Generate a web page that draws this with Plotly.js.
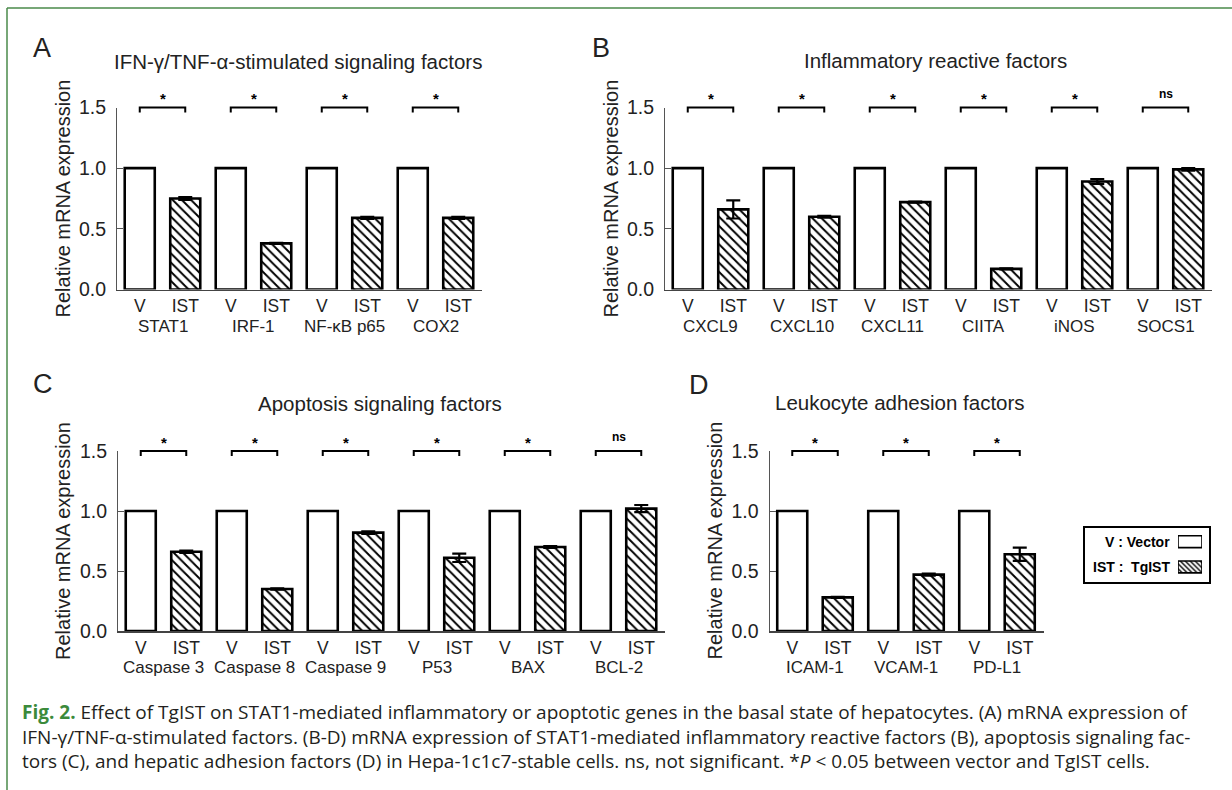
<!DOCTYPE html>
<html>
<head>
<meta charset="utf-8">
<script src="https://cdn.plot.ly/plotly-3.0.1.min.js"></script>
<style>html,body{margin:0;padding:0;background:#fff;}#chart{width:1232px;height:790px;}</style>
</head>
<body>
<div id="chart"></div>
<script>
// ---- data ----
const groupsA = ['STAT1', 'IRF-1', 'NF-κB p65', 'COX2'];
const vectorA = [1, 1, 1, 1];
const tgistA = [0.75, 0.38, 0.59, 0.59];
const errA = [0.012, 0.005, 0.008, 0.008];
const sigA = ['*', '*', '*', '*'];

const groupsB = ['CXCL9', 'CXCL10', 'CXCL11', 'CIITA', 'iNOS', 'SOCS1'];
const vectorB = [1, 1, 1, 1, 1, 1];
const tgistB = [0.66, 0.60, 0.72, 0.17, 0.89, 0.99];
const errB = [0.075, 0.008, 0.005, 0.005, 0.02, 0.01];
const sigB = ['*', '*', '*', '*', '*', 'ns'];

const groupsC = ['Caspase 3', 'Caspase 8', 'Caspase 9', 'P53', 'BAX', 'BCL-2'];
const vectorC = [1, 1, 1, 1, 1, 1];
const tgistC = [0.66, 0.35, 0.82, 0.61, 0.70, 1.02];
const errC = [0.01, 0.005, 0.01, 0.035, 0.008, 0.03];
const sigC = ['*', '*', '*', '*', '*', 'ns'];

const groupsD = ['ICAM-1', 'VCAM-1', 'PD-L1'];
const vectorD = [1, 1, 1];
const tgistD = [0.28, 0.47, 0.64];
const errD = [0.005, 0.008, 0.055];
const sigD = ['*', '*', '*'];

const barLabels = ['V', 'IST'];
const yTicks = [0, 0.5, 1.0, 1.5];
const yTitle = 'Relative mRNA expression';
const legendLabels = ['V : Vector', 'IST :  TgIST'];

const captionLines = [
  '<span style="color:#3b8a3b"><b>Fig. 2.</b></span> Effect of TgIST on STAT1-mediated inflammatory or apoptotic genes in the basal state of hepatocytes. (A) mRNA expression of',
  'IFN-γ/TNF-α-stimulated factors. (B-D) mRNA expression of STAT1-mediated inflammatory reactive factors (B), apoptosis signaling fac-',
  'tors (C), and hepatic adhesion factors (D) in Hepa-1c1c7-stable cells. ns, not significant. *<i>P</i> &lt; 0.05 between vector and TgIST cells.'
];

// ---- layout helpers ----
const W = 1232, H = 790;
const px = x => x / W;
const py = y => 1 - y / H;
const PITCH = 45.5; // px per bar slot
const FONT = 'Liberation Sans, Arial, sans-serif';

const panels = [
  {s: '', letter: 'A', title: 'IFN-γ/TNF-α-stimulated signaling factors', groups: groupsA, v: vectorA, ist: tgistA, err: errA, sig: sigA,
   x0: 117, y0: 289.5, y1: 107.5, letterXY: [42, 48], titleXY: [112, 62]},
  {s: '2', letter: 'B', title: 'Inflammatory reactive factors', groups: groupsB, v: vectorB, ist: tgistB, err: errB, sig: sigB,
   x0: 665, y0: 289.5, y1: 107.5, letterXY: [601, 48], titleXY: [802, 61]},
  {s: '3', letter: 'C', title: 'Apoptosis signaling factors', groups: groupsC, v: vectorC, ist: tgistC, err: errC, sig: sigC,
   x0: 118, y0: 631, y1: 451, letterXY: [43, 384], titleXY: [256, 403]},
  {s: '4', letter: 'D', title: 'Leukocyte adhesion factors', groups: groupsD, v: vectorD, ist: tgistD, err: errD, sig: sigD,
   x0: 769.5, y0: 631, y1: 451, letterXY: [699, 385], titleXY: [773, 402]}
];

const data = [];
const layout = {
  width: W, height: H,
  margin: {l: 0, r: 0, t: 0, b: 0},
  paper_bgcolor: '#fff', plot_bgcolor: 'rgba(0,0,0,0)',
  showlegend: false,
  barmode: 'overlay',
  font: {family: FONT, color: '#222'},
  shapes: [], annotations: []
};

panels.forEach(p => {
  const n = p.groups.length;
  const xv = p.groups.map((g, k) => 2 * k);
  const xi = p.groups.map((g, k) => 2 * k + 1);
  const xa = 'x' + p.s, ya = 'y' + p.s;
  const x1 = p.x0 + PITCH * (2 * n + 0.03);
  data.push({
    type: 'bar', x: xv, y: p.v, xaxis: xa, yaxis: ya, width: 0.66,
    marker: {color: '#ffffff', line: {color: '#000', width: 2.6}},
    hoverinfo: 'skip'
  });
  data.push({
    type: 'bar', x: xi, y: p.ist, xaxis: xa, yaxis: ya, width: 0.66,
    marker: {color: '#ffffff', line: {color: '#000', width: 2.6},
      pattern: {shape: '\\', fgcolor: '#000', bgcolor: '#fff', size: 6.5, solidity: 0.3}},
    error_y: {type: 'data', array: p.err, visible: true, color: '#000', thickness: 2.2, width: 7},
    hoverinfo: 'skip'
  });
  const tickv = [], tickt = [];
  p.groups.forEach((g, k) => { tickv.push(2 * k, 2 * k + 1); tickt.push(barLabels[0], barLabels[1]); });
  layout['xaxis' + p.s] = {
    domain: [px(p.x0), px(x1)], range: [-0.5, 2 * n - 0.47], anchor: ya,
    tickvals: tickv, ticktext: tickt, ticks: '', showline: true, linecolor: '#444', linewidth: 1.6,
    showgrid: false, zeroline: false, tickfont: {size: 17.5, family: FONT, color: '#222'}, fixedrange: true
  };
  layout['yaxis' + p.s] = {
    domain: [py(p.y0), py(p.y1)], range: [0, 1.5], anchor: xa,
    tickvals: yTicks, ticktext: yTicks.map(t => t.toFixed(1)), ticks: 'inside', ticklen: 6, tickwidth: 1, tickcolor: '#555',
    showline: true, linecolor: '#555', linewidth: 1, showgrid: false, zeroline: false,
    tickfont: {size: 19.5, family: FONT, color: '#222'}, ticklabelstandoff: 6, fixedrange: true
  };
  // significance brackets and labels
  p.groups.forEach((g, k) => {
    layout.shapes.push({
      type: 'path', xref: xa, yref: ya + ' domain',
      path: `M ${2 * k},0.972 L ${2 * k},1 L ${2 * k + 1},1 L ${2 * k + 1},0.972`,
      line: {color: '#000', width: 2}
    });
    const isStar = p.sig[k] === '*';
    layout.annotations.push({
      xref: xa, yref: ya + ' domain', x: 2 * k + 0.5, y: 1, yanchor: 'middle', xanchor: 'center',
      yshift: isStar ? 9 : 14, showarrow: false, text: '<b>' + p.sig[k] + '</b>',
      font: {size: isStar ? 15 : 12, family: FONT, color: '#000'}
    });
    layout.annotations.push({
      xref: xa, yref: 'paper', x: 2 * k + 0.5, y: py(p.y0 + 36.5), yanchor: 'middle', xanchor: 'center',
      showarrow: false, text: g, font: {size: 17, family: FONT, color: '#222'}
    });
  });
  // y-axis title
  layout.annotations.push({
    xref: 'paper', yref: 'paper', x: px(p.x0 - 55), y: py((p.y0 + p.y1) / 2), textangle: -90,
    xanchor: 'center', yanchor: 'middle', showarrow: false, text: yTitle,
    font: {size: 20, family: FONT, color: '#222'}
  });
  // panel letter
  layout.annotations.push({
    xref: 'paper', yref: 'paper', x: px(p.letterXY[0]), y: py(p.letterXY[1]), xanchor: 'center', yanchor: 'middle',
    showarrow: false, text: p.letter, font: {size: 27, family: FONT, color: '#222'}
  });
  // panel title
  layout.annotations.push({
    xref: 'paper', yref: 'paper', x: px(p.titleXY[0]), y: py(p.titleXY[1]), xanchor: 'left', yanchor: 'middle',
    showarrow: false, text: p.title, font: {size: 20.5, family: FONT, color: '#222'}
  });
});

// ---- legend (drawn as its own tiny subplot so the swatches use the bar pattern) ----
data.push({type: 'bar', orientation: 'h', y: [0], x: [1], xaxis: 'x5', yaxis: 'y5', width: 0.47,
  marker: {color: '#fff', line: {color: '#000', width: 1.6}}, hoverinfo: 'skip'});
data.push({type: 'bar', orientation: 'h', y: [1], x: [1], xaxis: 'x5', yaxis: 'y5', width: 0.47,
  marker: {color: '#fff', line: {color: '#000', width: 1.6}, pattern: {shape: '\\', fgcolor: '#000', bgcolor: '#fff', size: 3.5, solidity: 0.4}},
  hoverinfo: 'skip'});
layout.xaxis5 = {domain: [px(1178), px(1202)], range: [0, 1], visible: false, anchor: 'y5', fixedrange: true};
layout.yaxis5 = {domain: [py(579.6), py(529)], range: [1.5, -0.5], visible: false, anchor: 'x5', fixedrange: true};
layout.shapes.push({type: 'rect', xref: 'paper', yref: 'paper', x0: px(1084), x1: px(1210), y0: py(527), y1: py(583),
  line: {color: '#000', width: 2}, fillcolor: 'rgba(0,0,0,0)'});
legendLabels.forEach((t, i) => {
  layout.annotations.push({xref: 'paper', yref: 'paper', x: px(1172), y: py(541.7 + 25.3 * i), xanchor: 'right', yanchor: 'middle',
    showarrow: false, text: '<b>' + t + '</b>', font: {size: 14, family: FONT, color: '#000'}});
});

// ---- frame and caption ----
layout.shapes.push({type: 'line', xref: 'paper', yref: 'paper', x0: px(7), x1: px(1232), y0: py(8), y1: py(8), line: {color: '#4a8a4a', width: 1.5}});
layout.shapes.push({type: 'line', xref: 'paper', yref: 'paper', x0: px(7), x1: px(7), y0: py(8), y1: py(790), line: {color: '#4a8a4a', width: 1.5}});
captionLines.forEach((t, i) => {
  layout.annotations.push({xref: 'paper', yref: 'paper', x: px(20), y: py(712 + 24.5 * i), xanchor: 'left', yanchor: 'middle',
    showarrow: false, text: t, font: {size: 19, family: 'Open Sans, sans-serif', color: '#231f20'}});
});

Plotly.newPlot('chart', data, layout, {staticPlot: true, displayModeBar: false});
</script>
</body>
</html>
